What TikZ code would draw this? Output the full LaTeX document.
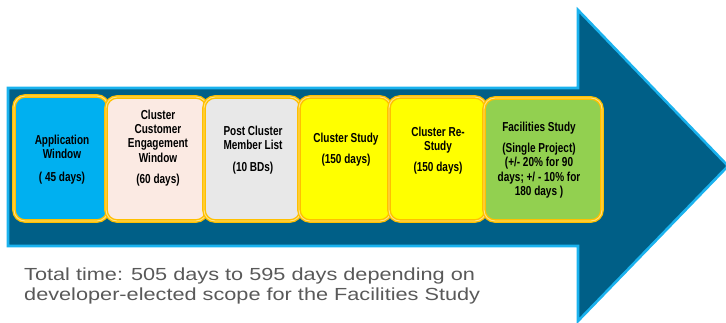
\documentclass[tikz,border=0pt]{standalone}
\usepackage{fontspec}
\setmainfont{Liberation Sans}
\newfontfamily\boxfont{Liberation Sans}[FakeStretch=0.77]
\newfontfamily\footfont{Liberation Sans}[FakeStretch=1.24]
\definecolor{arrowfill}{HTML}{005F87}
\definecolor{arrowline}{HTML}{1AB2EE}
\definecolor{goldline}{HTML}{FFC000}
\definecolor{palegold}{HTML}{FFE38A}
\definecolor{appblue}{HTML}{00B0F0}
\definecolor{peach}{HTML}{FBEAE3}
\definecolor{lgray}{HTML}{E8E8E8}
\definecolor{yel}{HTML}{FFFF00}
\definecolor{grn}{HTML}{92D050}
\definecolor{foot}{HTML}{595959}
\tikzset{
  bigarrow/.style={fill=arrowfill, draw=arrowline, line width=2.6pt, line join=miter},
  stage/.style={draw=goldline, double=palegold, double distance=0.9pt, line width=1.4pt,
    rounded corners=11pt, inner sep=0pt},
  lbl/.style={align=center, inner sep=0pt, anchor=north,
    font={\boxfont\bfseries\fontsize{13}{14.3}\selectfont}},
  foottext/.style={align=left, inner sep=0pt, anchor=north west, text=foot,
    font={\footfont\fontsize{17.5}{20.5}\selectfont}}
}
\begin{document}
\begin{tikzpicture}[x=1pt,y=-1pt]
\useasboundingbox (0,0) rectangle (726,322);
\begin{scope}
\clip (0,0) rectangle (726,322);
\draw[bigarrow] (8,88) -- (578,88) -- (578,10) -- (728,166) -- (578,321) -- (578,246) -- (8,246) -- cycle;
\end{scope}
% stages
\node[stage, fill=appblue, minimum width=94pt, minimum height=125pt] (b1) at (61,158.5) {};
\node[stage, fill=peach, minimum width=101pt, minimum height=124pt] (b2) at (156.5,159) {};
\node[stage, fill=lgray, minimum width=97pt, minimum height=124pt] (b3) at (252.5,159) {};
\node[stage, fill=yel, minimum width=92pt, minimum height=124pt] (b4) at (345,159) {};
\node[stage, fill=yel, minimum width=97pt, minimum height=124pt] (b5) at (437.5,159) {};
\node[stage, fill=grn, minimum width=118pt, minimum height=123pt] (b6) at (543,159.5) {};
% labels
\node[lbl] (t1) at (62,134.5) {Application\\Window\\[9pt]( 45 days)};
\node[lbl] (t2) at (158,109.5) {Cluster\\Customer\\Engagement\\Window\\[7pt](60 days)};
\node[lbl] (t3) at (253,125.5) {Post Cluster\\Member List\\[8pt](10 BDs)};
\node[lbl] (t4) at (346,132.5) {Cluster Study\\[7pt](150 days)};
\node[lbl] (t5) at (438,126.5) {Cluster Re-\\Study\\[7pt](150 days)};
\node[lbl] (t6) at (539,121.5) {Facilities Study\\[7pt](Single Project)\\(+/- 20\% for 90\\days; +/ - 10\% for\\180 days )};
% footer
\node[foottext] (ft) at (24,267.5) {Total time: 505 days to 595 days depending on\\developer-elected scope for the Facilities Study};
\end{tikzpicture}
\end{document}
